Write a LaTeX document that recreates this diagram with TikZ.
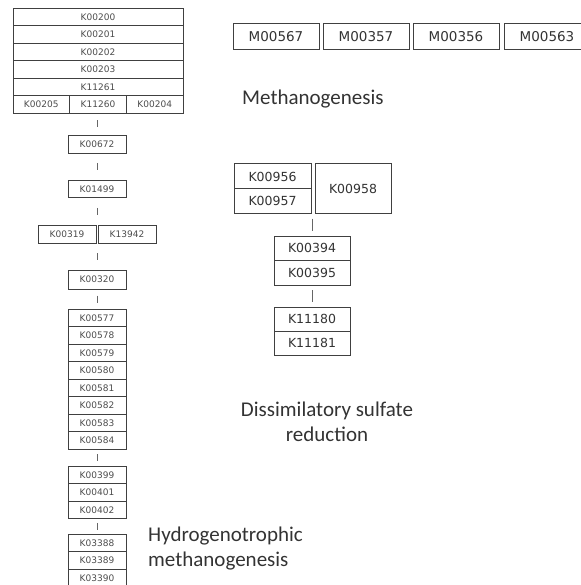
\documentclass[tikz,border=0pt]{standalone}
\usepackage{fontspec}
\setmainfont{Carlito}
\newfontfamily\boxfont{DejaVu Sans}
\usepackage{tikz}
\usetikzlibrary{positioning, calc}

\tikzset{
  ko/.style={draw=black!75, line width=0.8pt, minimum width=58pt, minimum height=17.5pt,
    inner sep=0pt, outer sep=0pt, font=\boxfont\fontsize{9}{10}\selectfont, text=black!70},
  kobig/.style={draw=black!75, line width=1pt, minimum width=76pt, minimum height=24.5pt,
    inner sep=0pt, outer sep=0pt, font=\boxfont\fontsize{12.5}{14}\selectfont, text=black!80},
  module/.style={kobig, minimum width=86pt, minimum height=26pt, font=\boxfont\fontsize{13.5}{15}\selectfont},
  pathway/.style={font=\fontsize{21}{25}\selectfont, text=black!80, inner sep=0pt},
  link/.style={draw=black!60, line width=0.7pt},
}
% short tick half way between two anchors
\newcommand{\linkbox}[3]{%
  \draw[link] ($(#1)!0.5!(#2)-(0,#3)$) -- ($(#1)!0.5!(#2)+(0,#3)$);}

\begin{document}
\begin{tikzpicture}[x=1pt, y=-1pt]
  \useasboundingbox (0,0) rectangle (580,585);

  % hydrogenotrophic methanogenesis column
  \node[ko, minimum width=170pt, anchor=north] (k200) at (98,8) {K00200};
  \node[ko, minimum width=170pt, below=0pt of k200] (k201) {K00201};
  \node[ko, minimum width=170pt, below=0pt of k201] (k202) {K00202};
  \node[ko, minimum width=170pt, below=0pt of k202] (k203) {K00203};
  \node[ko, minimum width=170pt, below=0pt of k203] (k11261) {K11261};
  \node[ko, minimum width=57pt, below=0pt of k11261] (k11260) {K11260};
  \node[ko, minimum width=56.5pt, left=0pt of k11260] (k205) {K00205};
  \node[ko, minimum width=56.5pt, right=0pt of k11260] (k204) {K00204};

  \node[ko, minimum height=18pt, anchor=north] (k672) at (97,135) {K00672};
  \node[ko, anchor=north] (k1499) at (97,180) {K01499};
  \node[ko, minimum height=18pt, anchor=north east] (k319) at (96,225) {K00319};
  \node[ko, minimum height=18pt, right=2pt of k319] (k13942) {K13942};
  \coordinate (pairtop) at ($(k319.north east)!0.5!(k13942.north west)$);
  \coordinate (pairbot) at ($(k319.south east)!0.5!(k13942.south west)$);
  \node[ko, minimum height=19pt, anchor=north] (k320) at (97,270) {K00320};

  \node[ko, anchor=north] (k577) at (97,309) {K00577};
  \node[ko, below=0pt of k577] (k578) {K00578};
  \node[ko, below=0pt of k578] (k579) {K00579};
  \node[ko, below=0pt of k579] (k580) {K00580};
  \node[ko, below=0pt of k580] (k581) {K00581};
  \node[ko, below=0pt of k581] (k582) {K00582};
  \node[ko, below=0pt of k582] (k583) {K00583};
  \node[ko, below=0pt of k583] (k584) {K00584};

  \node[ko, anchor=north] (k399) at (97,466) {K00399};
  \node[ko, below=0pt of k399] (k401) {K00401};
  \node[ko, below=0pt of k401] (k402) {K00402};

  \node[ko, anchor=north] (k3388) at (97,534) {K03388};
  \node[ko, below=0pt of k3388] (k3389) {K03389};
  \node[ko, below=0pt of k3389] (k3390) {K03390};

  \linkbox{k11260.south}{k672.north}{3.5}
  \linkbox{k672.south}{k1499.north}{3.5}
  \linkbox{k1499.south}{pairtop}{3.5}
  \linkbox{pairbot}{k320.north}{3.5}
  \linkbox{k320.south}{k577.north}{3.5}
  \linkbox{k584.south}{k399.north}{3.5}
  \linkbox{k402.south}{k3388.north}{3.5}

  % methanogenesis modules
  \node[module, anchor=north west] (m567) at (233,24) {M00567};
  \node[module, right=4pt of m567] (m357) {M00357};
  \node[module, right=4pt of m357] (m356) {M00356};
  \node[module, right=5pt of m356] (m563) {M00563};

  % dissimilatory sulfate reduction
  \node[kobig, minimum width=77pt, minimum height=25pt, anchor=north west] (k956) at (234,164) {K00956};
  \node[kobig, minimum width=77pt, minimum height=24pt, below=0pt of k956] (k957) {K00957};
  \node[kobig, minimum height=49pt, anchor=north west] (k958) at (315,164) {K00958};
  \coordinate (grpbot) at ($(k957.south east)!0.5!(k958.south west)$);
  \node[kobig, anchor=north] (k394) at (312,236) {K00394};
  \node[kobig, below=0pt of k394] (k395) {K00395};
  \node[kobig, minimum height=24pt, anchor=north] (k11180) at (312,307) {K11180};
  \node[kobig, minimum height=24pt, below=0pt of k11180] (k11181) {K11181};

  \linkbox{grpbot}{k394.north}{6}
  \linkbox{k395.south}{k11180.north}{6}

  % pathway names
  \node[pathway, anchor=west] (methano) at (242,99) {Methanogenesis};
  \node[pathway, align=center] (sulfate) at (327,422) {Dissimilatory sulfate\\reduction};
  \node[pathway, align=left, anchor=west] (hydro) at (148,549) {Hydrogenotrophic\\methanogenesis};

\end{tikzpicture}
\end{document}
